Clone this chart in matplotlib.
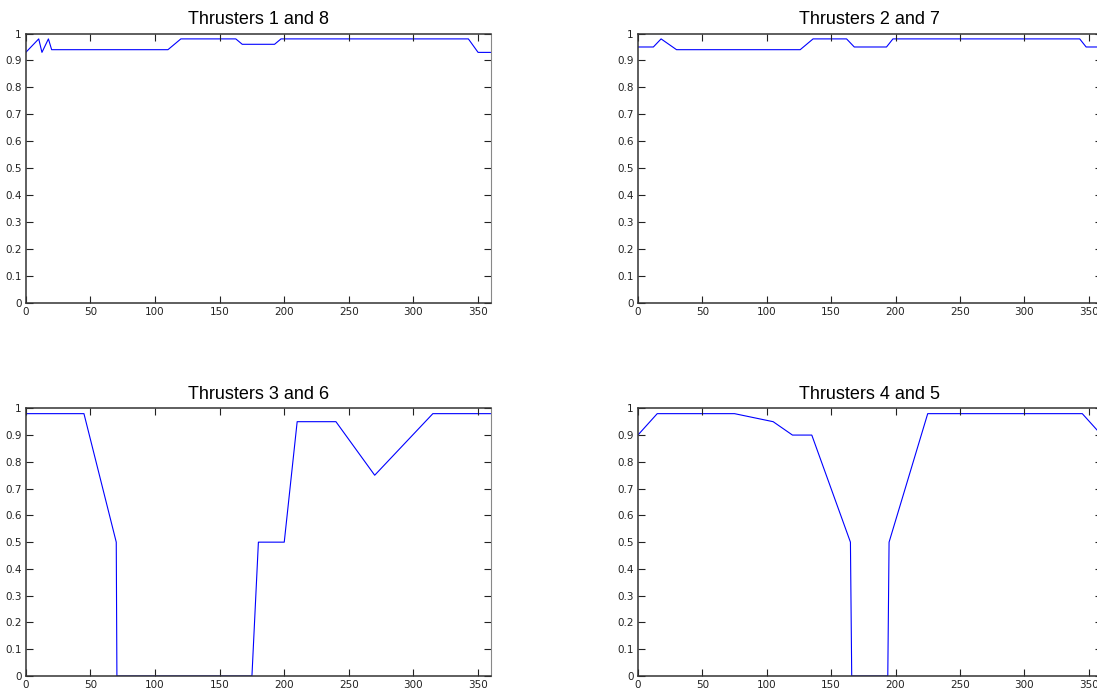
import numpy as np
import matplotlib
matplotlib.use('Agg')
import matplotlib.pyplot as plt

# angle (deg) / efficiency breakpoints
t18_x = [0, 10, 12.5, 17.5, 20, 110, 120, 162.5, 167.5, 192.5, 197.5, 342.5, 350, 360]
t18_y = [0.93, 0.98, 0.93, 0.98, 0.94, 0.94, 0.98, 0.98, 0.96, 0.96, 0.98, 0.98, 0.93, 0.93]

t27_x = [0, 12, 18, 30, 126, 136, 162, 168, 193, 198, 343, 348, 360]
t27_y = [0.95, 0.95, 0.98, 0.94, 0.94, 0.98, 0.98, 0.95, 0.95, 0.98, 0.98, 0.95, 0.95]

t36_x = [0, 45, 70, 70.5, 175, 180, 200, 210, 240, 270, 315, 360]
t36_y = [0.98, 0.98, 0.5, 0, 0, 0.5, 0.5, 0.95, 0.95, 0.75, 0.98, 0.98]

t45_x = [0, 15, 75, 105, 120, 135, 165, 166, 194, 195, 225, 345, 360]
t45_y = [0.9, 0.98, 0.98, 0.95, 0.9, 0.9, 0.5, 0, 0, 0.5, 0.98, 0.98, 0.9]

titles = ['Thrusters 1 and 8', 'Thrusters 2 and 7', 'Thrusters 3 and 6', 'Thrusters 4 and 5']
series = [(t18_x, t18_y), (t27_x, t27_y), (t36_x, t36_y), (t45_x, t45_y)]

W, H = 1097, 691
fig = plt.figure(figsize=(W / 100, H / 100), dpi=100)

# axes boxes in pixels: left, top, right, bottom
boxes = [(25.8, 33.5, 491, 303.3),
         (637.9, 33.5, 1101.6, 303.3),
         (25.8, 408.3, 491, 676),
         (637.9, 408.3, 1101.6, 676)]

yticks = np.round(np.arange(0, 1.01, 0.1), 1)
ylabels = ['0'] + [f'{v:g}' for v in yticks[1:]]

for (l, t, r, b), (xs, ys), title in zip(boxes, series, titles):
    ax = fig.add_axes([l / W, (H - b) / H, (r - l) / W, (b - t) / H])
    ax.plot(xs, ys, color='#0000ff', linewidth=0.8, zorder=1)
    ax.set_xlim(0, 360)
    ax.set_ylim(0, 1)
    ax.set_xticks(np.arange(0, 351, 50))
    ax.set_yticks(yticks)
    ax.set_yticklabels(ylabels)
    ax.tick_params(direction='in', length=5, width=0.8, top=True, right=True,
                   labelsize=7.5, colors='#222222', pad=3)
    for side in ['left', 'bottom', 'top']:
        ax.spines[side].set_color('#333333')
        ax.spines[side].set_linewidth(1.1)
        ax.spines[side].set_zorder(3)
    ax.spines['right'].set_color('#888888')
    ax.spines['right'].set_linewidth(0.8)
    ax.set_title(title, fontsize=13, pad=7, family='Liberation Sans')

fig.savefig('out.png', dpi=100)
